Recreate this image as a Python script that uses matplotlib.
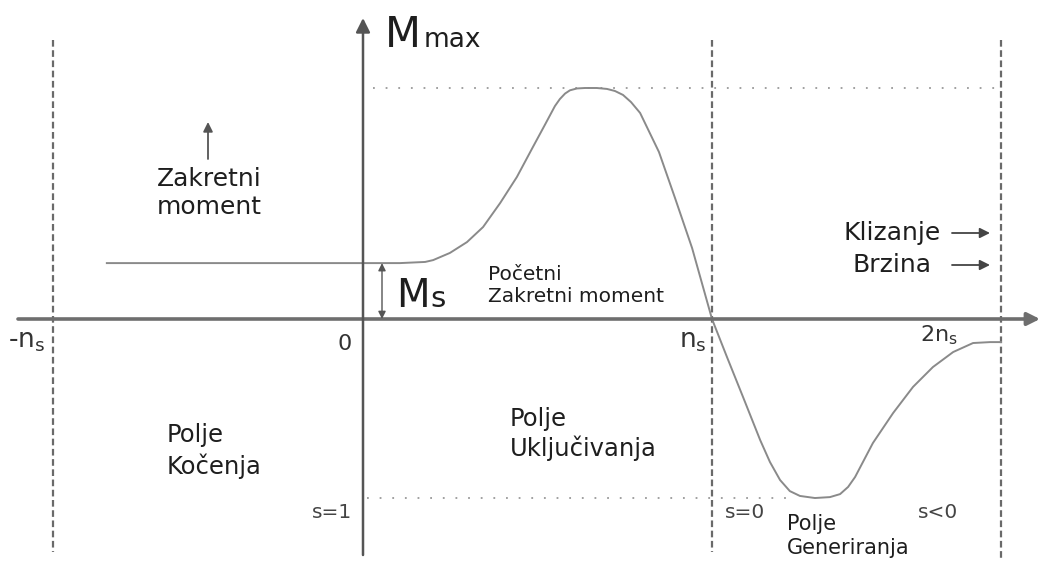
import matplotlib
matplotlib.use("Agg")
import matplotlib.pyplot as plt

# torque-speed curve of an induction motor (schematic)
# speed in units of n_s, torque in units of M_max
speed = [-0.734, 0.106, 0.178, 0.201, 0.249, 0.298, 0.344, 0.393, 0.441, 0.487,
         0.521, 0.550, 0.564, 0.579, 0.593, 0.613, 0.636, 0.670, 0.699, 0.722,
         0.745, 0.768, 0.794, 0.848, 0.894, 0.943, 1.000, 1.043, 1.089, 1.138,
         1.166, 1.195, 1.223, 1.252, 1.295, 1.338, 1.367, 1.390, 1.410, 1.461,
         1.519, 1.576, 1.633, 1.691, 1.748, 1.797, 1.828]
torque = [0.242, 0.242, 0.247, 0.255, 0.286, 0.333, 0.398, 0.502, 0.615, 0.745,
          0.840, 0.922, 0.952, 0.976, 0.990, 0.998, 1.000, 1.000, 0.996, 0.987,
          0.970, 0.939, 0.892, 0.723, 0.524, 0.307, 0.000, -0.165, -0.338, -0.524,
          -0.619, -0.697, -0.745, -0.766, -0.775, -0.771, -0.758, -0.727, -0.684, -0.537,
          -0.407, -0.294, -0.208, -0.143, -0.104, -0.100, -0.100]

guide_speeds = [-0.888, 1.0, 1.828]     # -n_s, n_s, 2n_s
m_max = 1.0
m_start = 0.242
m_min = -0.775

# picture layout: origin at pixel (363, 319)
X0, Y0, SX, SY = 363, 319, 349, 231


def P(px, py):
    return (px - X0) / SX, (Y0 - py) / SY


fig = plt.figure(figsize=(10.4, 5.76), dpi=100)
ax = fig.add_axes([0, 0, 1, 1])
ax.set_xlim(P(0, 0)[0], P(1040, 0)[0])
ax.set_ylim(P(0, 576)[1], P(0, 0)[1])
ax.axis("off")

grey = "#6a6a6a"
txt = "#1e1e1e"

# dashed guides
for i, g in enumerate(guide_speeds):
    y_end = P(0, 560 if i == 2 else 552)[1]
    ax.plot([g, g], [P(0, 40)[1], y_end], color=grey, lw=1.6,
            linestyle=(0, (3, 1.6)))

# dotted levels
ax.plot([P(373, 0)[0], guide_speeds[2]], [m_max, m_max], color="#999999",
        lw=1.3, linestyle=(0, (1, 6)))
ax.plot([P(367, 0)[0], P(790, 0)[0]], [m_min, m_min], color="#999999",
        lw=1.3, linestyle=(0, (1, 6)))

# axes with arrow heads
ax.annotate("", xy=P(1040, 319), xytext=P(18, 319),
            arrowprops=dict(arrowstyle="-|>", color="#6e6e6e", lw=2.6,
                            mutation_scale=19, shrinkA=0, shrinkB=0))
ax.annotate("", xy=P(363, 18), xytext=P(363, 555),
            arrowprops=dict(arrowstyle="-|>", color="#555555", lw=1.8,
                            mutation_scale=21, shrinkA=0, shrinkB=0))

# the curve
ax.plot(speed, torque, color="#8a8a8a", lw=1.4, solid_joinstyle="round")

# M_s double arrow
ax.annotate("", xy=(P(382, 0)[0], 0), xytext=(P(382, 0)[0], m_start),
            arrowprops=dict(arrowstyle="<|-|>", color="#555555", lw=1.0,
                            mutation_scale=11, shrinkA=0, shrinkB=0))
# small arrows
ax.annotate("", xy=P(208, 122), xytext=P(208, 159),
            arrowprops=dict(arrowstyle="-|>", color="#555555", lw=1.3,
                            mutation_scale=14, shrinkA=0, shrinkB=0))
for yy in (233, 265):
    ax.annotate("", xy=P(990, yy), xytext=P(952, yy),
                arrowprops=dict(arrowstyle="-|>", color="#444444", lw=1.3,
                                mutation_scale=15, shrinkA=0, shrinkB=0))

# labels
ax.text(*P(385, 47), "M", fontsize=30, color=txt, va="baseline")
ax.text(*P(424, 47), "max", fontsize=19, color=txt, va="baseline")
ax.text(*P(396, 307), "M", fontsize=28, color=txt, va="baseline")
ax.text(*P(430, 307), "s", fontsize=21, color=txt, va="baseline")

ax.text(*P(209, 193), "Zakretni\nmoment", fontsize=18, color=txt,
        ha="center", va="center", linespacing=1.25)
ax.text(*P(488, 285), "Početni\nZakretni moment", fontsize=14.5, color=txt,
        va="center", linespacing=1.2)
ax.text(*P(892, 233), "Klizanje", fontsize=18, color=txt, ha="center", va="center")
ax.text(*P(892, 265), "Brzina", fontsize=18, color=txt, ha="center", va="center")

ax.text(*P(167, 451), "Polje\nKočenja", fontsize=17.5, color=txt,
        va="center", linespacing=1.3)
ax.text(*P(510, 434), "Polje\nUključivanja", fontsize=17.5, color=txt,
        va="center", linespacing=1.25)
ax.text(*P(787, 536), "Polje\nGeneriranja", fontsize=15, color=txt,
        va="center", linespacing=1.2)

ax.text(*P(352, 512), "s=1", fontsize=14.5, color="#444444", ha="right", va="center")
ax.text(*P(725, 512), "s=0", fontsize=14.5, color="#444444", va="center")
ax.text(*P(918, 512), "s<0", fontsize=14.5, color="#444444", va="center")

ax.text(*P(352, 344), "0", fontsize=16, color="#333333", ha="right", va="center")
ax.text(*P(8, 347), r"-$\mathregular{n_s}$", fontsize=19, color="#333333",
        va="baseline")
ax.text(*P(707, 347), r"$\mathregular{n_s}$", fontsize=19, color="#333333",
        ha="right", va="baseline")
ax.text(*P(920, 341), r"$\mathregular{2n_s}$", fontsize=16, color="#333333",
        va="baseline")

fig.savefig("out.png", dpi=100)
